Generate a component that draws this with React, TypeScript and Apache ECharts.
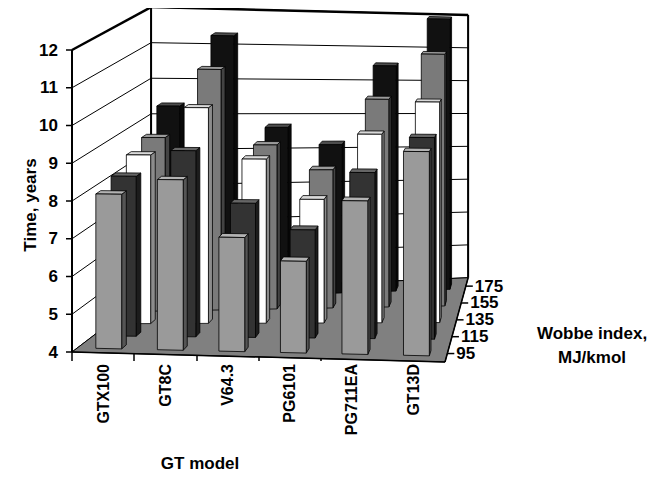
import { useEffect, useRef } from 'react';
import * as echarts from 'echarts';

const models = ['GTX100', 'GT8C', 'V64.3', 'PG6101', 'PG711EA', 'GT13D'];
const wobbe = ['95', '115', '135', '155', '175'];
const w95 = [8.1, 8.5, 7.0, 6.4, 8.0, 9.3];
const w115 = [8.3, 9.0, 7.6, 6.9, 8.45, 9.4];
const w135 = [8.6, 9.9, 8.5, 7.4, 9.2, 10.1];
const w155 = [8.8, 10.7, 8.6, 7.9, 9.9, 11.2];
const w175 = [9.4, 11.4, 8.8, 8.3, 10.6, 12.0];
const rows = [w95, w115, w135, w155, w175];
const faceColors = ['#9a9a9a', '#333333', '#ffffff', '#7a7a7a', '#111111'];
const yMin = 4;
const yMax = 12;
const FONT = 'bold 17px Liberation Sans, Arial';

const shade = (hex: string, f: number) => {
  const n = parseInt(hex.slice(1), 16);
  const c = [(n >> 16) & 255, (n >> 8) & 255, n & 255].map((v) =>
    Math.max(0, Math.min(255, Math.round(f >= 1 ? v + (255 - v) * (f - 1) : v * f)))
  );
  return `rgb(${c[0]},${c[1]},${c[2]})`;
};

// projection: front plane = grid, back plane = smaller tilted copy of it
const makeProj = (api: any) => {
  const o = api.coord([0, yMax]);
  const e = api.coord([6, yMin]);
  const W = e[0] - o[0];
  const H = e[1] - o[1];
  return (u: number, d: number, v: number) => {
    const f = api.coord([u, v]);
    const r = (f[0] - o[0]) / W;
    const vf = (f[1] - o[1]) / H;
    const fx = f[0];
    const fy = f[1] + r * vf * 0.033 * H;
    const bx = o[0] + W * (0.212 + r * 0.85);
    const top = o[1] + H * (-0.142 + 0.026 * r);
    const bot = o[1] + H * (0.8 - 0.046 * r);
    const by = top + vf * (bot - top);
    const t = d / 5;
    return [fx + (bx - fx) * t, fy + (by - fy) * t];
  };
};

const barData: number[][] = [];
for (let k = 4; k >= 0; k--) {
  for (let i = 0; i < models.length; i++) barData.push([i, k, rows[k][i]]);
}

const App = () => {
  const chartDom = useRef<HTMLDivElement | null>(null);

  useEffect(() => {
    if (!chartDom.current) return;
    const myChart = echarts.init(chartDom.current, null, { renderer: 'svg' });
    const option = {
      animation: false,
      textStyle: { fontFamily: 'Liberation Sans, Arial, sans-serif' },
      grid: { left: 64, right: 216, top: 42, bottom: 119 },
      xAxis: [
        { type: 'value', min: 0, max: 6, show: false },
        {
          type: 'category',
          data: models,
          position: 'bottom',
          axisLine: { show: false },
          axisTick: { show: true, length: 9, lineStyle: { color: '#000', width: 1.5 } },
          axisLabel: { rotate: 90, fontSize: 16, fontWeight: 'bold', color: '#000', margin: 12 },
        },
      ],
      yAxis: {
        type: 'value',
        min: yMin,
        max: yMax,
        interval: 1,
        splitLine: { show: false },
        axisLine: { show: false },
        axisTick: { show: false },
        axisLabel: { fontSize: 17, fontWeight: 'bold', color: '#000', margin: 14 },
      },
      graphic: [
        {
          type: 'text', x: 22, y: 197, rotation: Math.PI / 2,
          style: { text: 'Time, years', font: FONT, fill: '#000', align: 'center', verticalAlign: 'middle' },
        },
        {
          type: 'text', x: 192, y: 455,
          style: { text: 'GT model', font: FONT, fill: '#000', align: 'center', verticalAlign: 'middle' },
        },
        {
          type: 'text', x: 584, y: 337,
          style: { text: 'Wobbe index,\nMJ/kmol', font: FONT, fill: '#000', align: 'center', verticalAlign: 'middle', lineHeight: 24 },
        },
      ],
      series: [
        {
          type: 'custom',
          xAxisIndex: 0,
          data: [[0]],
          z: 1,
          renderItem: (_p: any, api: any) => {
            const P = makeProj(api);
            const ch: any[] = [];
            const poly = (pts: number[][], fill: string) =>
              ch.push({ type: 'polygon', shape: { points: pts }, style: { fill, stroke: '#000', lineWidth: 1 } });
            const line = (a: number[], b: number[], lw = 1) =>
              ch.push({ type: 'line', shape: { x1: a[0], y1: a[1], x2: b[0], y2: b[1] }, style: { stroke: '#000', lineWidth: lw } });
            poly([P(0, 5, yMin), P(6, 5, yMin), P(6, 5, yMax), P(0, 5, yMax)], '#fff');
            poly([P(0, 0, yMin), P(0, 5, yMin), P(0, 5, yMax), P(0, 0, yMax)], '#fff');
            poly([P(0, 0, yMin), P(6, 0, yMin), P(6, 5, yMin), P(0, 5, yMin)], '#808080');
            for (let v = yMin + 1; v <= yMax; v++) {
              line(P(0, 0, v), P(0, 5, v));
              line(P(0, 5, v), P(6, 5, v));
            }
            line(P(0, 0, yMax), P(0, 5, yMax), 2.5);
            line(P(0, 5, yMax), P(6, 5, yMax), 2.5);
            line(P(0, 0, yMin), P(0, 0, yMax), 2);
            line(P(6, 5, yMin), P(6, 5, yMax), 2);
            line(P(0, 5, yMin), P(0, 5, yMax), 2);
            line(P(0, 0, yMin), P(6, 0, yMin), 1.5);
            for (let v = yMin; v <= yMax; v++) {
              const a = P(0, 0, v);
              line([a[0] - 6, a[1]], a, 1.5);
            }
            line(P(6, 0, yMin), P(6, 5, yMin), 1.5);
            for (let k = 0; k < wobbe.length; k++) {
              const a = P(6, k + 0.5, yMin);
              line(a, [a[0] + 7, a[1]], 1.5);
              ch.push({
                type: 'text', x: a[0] + 9, y: a[1],
                style: { text: wobbe[k], font: FONT, fill: '#000', verticalAlign: 'middle' },
              });
            }
            return { type: 'group', children: ch };
          },
        },
        {
          type: 'custom',
          xAxisIndex: 0,
          data: barData,
          z: 2,
          renderItem: (_p: any, api: any) => {
            const P = makeProj(api);
            const i = api.value(0);
            const k = api.value(1);
            const v = api.value(2);
            const u0 = i + 0.3, u1 = i + 0.72, d0 = k + 0.34, d1 = k + 0.66;
            const c = faceColors[k];
            const st = (fill: string) => ({ fill, stroke: '#000', lineWidth: 0.8 });
            return {
              type: 'group',
              children: [
                { type: 'polygon', shape: { points: [P(u1, d0, yMin), P(u1, d1, yMin), P(u1, d1, v), P(u1, d0, v)] }, style: st(shade(c, 0.55)) },
                { type: 'polygon', shape: { points: [P(u0, d0, v), P(u1, d0, v), P(u1, d1, v), P(u0, d1, v)] }, style: st(shade(c, k === 2 ? 0.85 : 1.25)) },
                { type: 'polygon', shape: { points: [P(u0, d0, yMin), P(u1, d0, yMin), P(u1, d0, v), P(u0, d0, v)] }, style: st(c) },
              ],
            };
          },
        },
      ],
    };
    myChart.setOption(option);
    return () => {
      myChart.dispose();
    };
  }, []);

  return <div ref={chartDom} style={{ width: 653, height: 463 }} />;
};

export default App;
